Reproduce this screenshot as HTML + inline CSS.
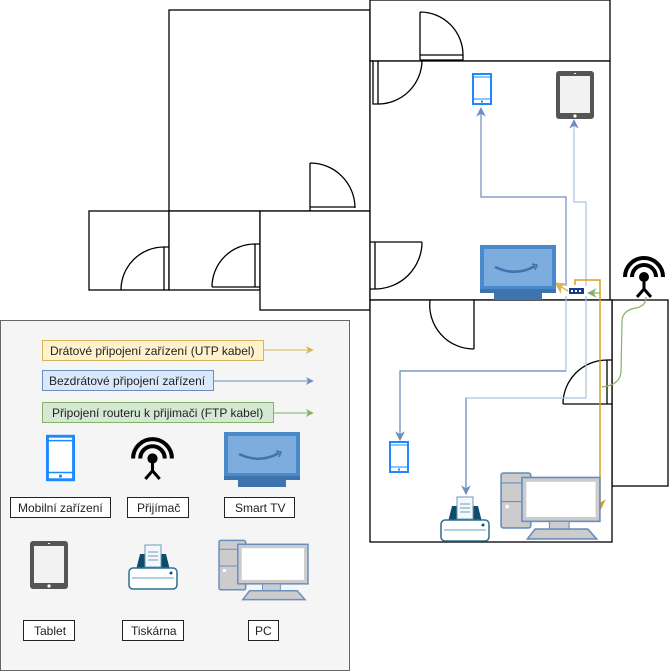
<!DOCTYPE html>
<html><head><meta charset="utf-8"><style>body{margin:0;background:#fff}svg{display:block}text{font-family:"Liberation Sans",sans-serif;font-size:12px;fill:#222}</style></head><body>
<svg width="671" height="671" viewBox="0 0 671 671" xmlns="http://www.w3.org/2000/svg">
<defs>
<symbol id="phone" viewBox="0 0 20 32"><rect x="1" y="1" width="18" height="30" fill="#fff" stroke="#1e88ff" stroke-width="2"/><line x1="1" y1="4" x2="19" y2="4" stroke="#1e88ff"/><line x1="1" y1="26" x2="19" y2="26" stroke="#1e88ff"/><rect x="9" y="27.5" width="2" height="2" fill="#1e88ff"/></symbol>
<symbol id="tablet" viewBox="0 0 40 50"><rect x="1" y="1" width="38" height="48" rx="3" fill="#555"/><rect x="5" y="6" width="30" height="37" fill="#f2f2f2"/><circle cx="20" cy="46" r="1.6" fill="#fff"/><rect x="19" y="3" width="2" height="1" fill="#fff"/></symbol>
<symbol id="tv" viewBox="0 0 76 56"><rect x="0" y="0" width="76" height="47" fill="#4a8acb"/><rect x="4" y="4" width="68" height="37" fill="#7dadde"/><rect x="0" y="44" width="76" height="4" fill="#3d74ad"/><rect x="14" y="48" width="48" height="7" fill="#3d74ad"/><path d="M15 22 Q36 32 55 21" stroke="#3d74ad" stroke-width="2.5" fill="none"/><path d="M52 19 L57 20 L55 25" stroke="#3d74ad" stroke-width="1.5" fill="none"/></symbol>
<symbol id="ant" viewBox="0 0 46 46"><path d="M4 24 A19 19 0 0 1 42 24" stroke="#000" stroke-width="4" fill="none"/><path d="M11 24 A12 12 0 0 1 35 24" stroke="#000" stroke-width="4" fill="none"/><circle cx="23" cy="24" r="5" fill="#000"/><line x1="23" y1="24" x2="23" y2="36" stroke="#000" stroke-width="3"/><path d="M16 44 L23 36 L30 44" stroke="#000" stroke-width="3" fill="none"/></symbol>
<symbol id="printer" viewBox="0 0 50 46"><path d="M8 26 L12 10 L38 10 L42 26Z" fill="#0d4d6b"/><rect x="17" y="1" width="16" height="22" fill="#f4f8fb" stroke="#6a9bb5"/><line x1="20" y1="8" x2="30" y2="8" stroke="#6a9bb5"/><line x1="20" y1="12" x2="30" y2="12" stroke="#6a9bb5"/><line x1="20" y1="16" x2="30" y2="16" stroke="#6a9bb5"/><rect x="1" y="24" width="48" height="21" rx="4" fill="#fff" stroke="#2c6f8e" stroke-width="1.5"/><line x1="4" y1="34" x2="46" y2="34" stroke="#6a9bb5"/><circle cx="43" cy="29" r="1.5" fill="#0d4d6b"/></symbol>
<symbol id="pc" viewBox="0 0 92 62"><rect x="1" y="1" width="27" height="50" rx="2" fill="#ccc" stroke="#6c8ebf" stroke-width="1.5"/><line x1="1" y1="10" x2="28" y2="10" stroke="#6c8ebf"/><line x1="1" y1="27" x2="28" y2="27" stroke="#6c8ebf"/><rect x="5" y="30" width="3" height="3" fill="#fff"/><rect x="20" y="5" width="71" height="40" fill="#ccc" stroke="#6c8ebf" stroke-width="1.5"/><rect x="24" y="9" width="63" height="32" fill="#fff"/><rect x="45" y="45" width="18" height="7" fill="#ccc" stroke="#6c8ebf"/><path d="M25 61 L32 52 L80 52 L88 61Z" fill="#ccc" stroke="#6c8ebf" stroke-width="1.5"/></symbol>
<marker id="ab" viewBox="0 0 10 10" refX="9" refY="5" markerWidth="8" markerHeight="8" orient="auto"><path d="M0 0 L10 5 L0 10 L3 5Z" fill="#6c8ebf"/></marker>
<marker id="ay" viewBox="0 0 10 10" refX="9" refY="5" markerWidth="8" markerHeight="8" orient="auto"><path d="M0 0 L10 5 L0 10 L3 5Z" fill="#d6a21e"/></marker>
<marker id="ay2" viewBox="0 0 10 10" refX="9" refY="5" markerWidth="8" markerHeight="8" orient="auto"><path d="M0 0 L10 5 L0 10 L3 5Z" fill="#d6b656"/></marker>
<marker id="ag" viewBox="0 0 10 10" refX="9" refY="5" markerWidth="8" markerHeight="8" orient="auto"><path d="M0 0 L10 5 L0 10 L3 5Z" fill="#82b366"/></marker>
</defs>
<g stroke="#000" stroke-width="1.3" fill="none">
<rect x="169" y="10" width="201" height="201" fill="#fff"/>
<rect x="89" y="211" width="80" height="79" fill="#fff"/>
<rect x="169" y="211" width="91" height="79" fill="#fff"/>
<rect x="260" y="211" width="110" height="99" fill="#fff"/>
<rect x="370" y="0" width="240" height="61" fill="#fff"/>
<rect x="370" y="61" width="240" height="239" fill="#fff"/>
<rect x="612" y="300" width="56" height="186" fill="#fff"/>
<rect x="370" y="300" width="242" height="242" fill="#fff"/>
<!-- doors -->
<path d="M420 12 A43 43 0 0 1 463 55 M420 12 V60 M420 55 H463 V60 H420"/>
<path d="M378 104 A44 44 0 0 0 422 61 M373 61 V104 H378 V61"/>
<path d="M310 163 A45 45 0 0 1 355 208 M310 163 V211 M310 207 H355"/>
<path d="M121 290 A43 43 0 0 1 164 247 M164 247 H169 M164 247 V290"/>
<path d="M212 287 A43 43 0 0 1 255 244 M212 287 H260 M255 244 V287 M255 244 H260"/>
<path d="M375 289 A47 47 0 0 0 422 242 M370 242 H422 M375 242 V289 H370"/>
<path d="M430 300 A44 44 0 0 0 474 349 M474 300 V349"/>
<path d="M563 404 A44 44 0 0 1 607 360 M607 360 V404 M563 404 H612 M607 360 H612"/>
</g>
<!-- connectors -->
<g fill="none" stroke-width="1.2">
<path d="M566 286 V197 H481 V108" stroke="#6c8ebf" marker-end="url(#ab)"/>
<path d="M586 286 V202 H574 V120" stroke="#a9c0e0" marker-end="url(#ab)"/>
<path d="M566 296 V371 H400 V440" stroke="#a9c0e0" marker-end="url(#ab)"/>
<path d="M566 371 H400 V440" stroke="#6c8ebf" marker-end="url(#ab)"/>
<path d="M586 296 V398 H466 V494" stroke="#a9c0e0"/>
<path d="M466 398 V494" stroke="#6c8ebf" marker-end="url(#ab)"/>
<path d="M575 285 V280 H600 V510" stroke="#d6a21e" stroke-width="1.5" marker-end="url(#ay)"/>
<path d="M568 291 L555 283" stroke="#d6b656" stroke-width="1.5" marker-end="url(#ay2)"/>
<path d="M646 297 Q646 306 636 308 Q622 310 622 322 L621 372 Q620 385 602 387 M600 293 L588 293" stroke="#82b366" marker-end="url(#ag)"/>
</g>
<!-- devices -->
<use href="#phone" x="472" y="73" width="20" height="32"/>
<use href="#tablet" x="555" y="70" width="40" height="50"/>
<use href="#tv" x="480" y="245" width="76" height="56"/>
<use href="#ant" x="621" y="253" width="46" height="46"/>
<rect x="569" y="288" width="15" height="6" fill="#1a3a8f"/><g fill="#fff"><rect x="571" y="290" width="2" height="2"/><rect x="575" y="290" width="2" height="2"/><rect x="579" y="290" width="2" height="2"/></g>
<use href="#phone" x="389" y="441" width="20" height="32"/>
<use href="#printer" x="440" y="496" width="50" height="46"/>
<use href="#pc" x="500" y="470" width="101" height="72"/>
<!-- legend -->
<rect x="0.5" y="320.5" width="349" height="350" fill="#f5f5f5" stroke="#666"/>
<rect x="42.5" y="340.5" width="221" height="20" fill="#fff2cc" stroke="#d6b656"/><text x="50" y="355">Drátové připojení zařízení (UTP kabel)</text>
<line x1="264" y1="350" x2="313" y2="350" stroke="#d6b656" marker-end="url(#ay2)"/>
<rect x="42.5" y="370.5" width="171" height="20" fill="#dae8fc" stroke="#6c8ebf"/><text x="49" y="385">Bezdrátové připojení zařízení</text>
<line x1="214" y1="381" x2="313" y2="381" stroke="#6c8ebf" marker-end="url(#ab)"/>
<rect x="42.5" y="402.5" width="231" height="20" fill="#d5e8d4" stroke="#82b366"/><text x="52" y="417">Připojení routeru k přijimači (FTP kabel)</text>
<line x1="274" y1="413" x2="313" y2="413" stroke="#82b366" marker-end="url(#ag)"/>
<use href="#phone" x="46" y="434" width="29" height="48"/>
<use href="#ant" x="129" y="434" width="47" height="47"/>
<use href="#tv" x="224" y="432" width="76" height="56"/>
<g fill="#fff" stroke="#222"><rect x="10.5" y="497.5" width="100" height="20"/><rect x="127.5" y="497.5" width="61" height="20"/><rect x="224.5" y="497.5" width="70" height="20"/><rect x="23.5" y="620.5" width="51" height="20"/><rect x="122.5" y="620.5" width="61" height="20"/><rect x="248.5" y="620.5" width="30" height="20"/></g>
<text x="18" y="512">Mobilní zařízení</text><text x="137" y="512">Přijímač</text><text x="235" y="512">Smart TV</text>
<text x="34" y="635">Tablet</text><text x="131" y="635">Tiskárna</text><text x="255" y="635">PC</text>
<use href="#tablet" x="29" y="540" width="40" height="50"/>
<use href="#printer" x="128" y="544" width="50" height="46"/>
<use href="#pc" x="218" y="539" width="91" height="62"/>
</svg>
</body></html>
